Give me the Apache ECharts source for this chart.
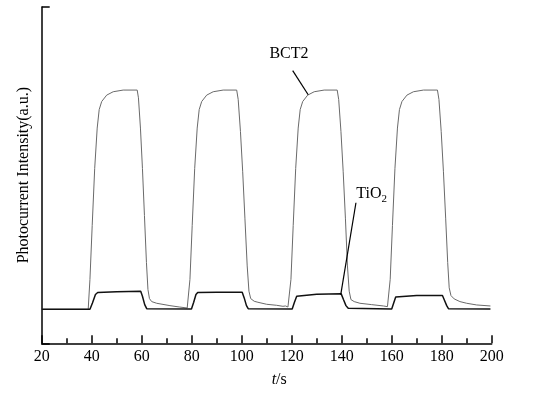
<!DOCTYPE html>
<html>
<head>
<meta charset="utf-8">
<script src="https://cdn.jsdelivr.net/npm/echarts@6/dist/echarts.min.js"></script>
<style>
  html, body { margin: 0; padding: 0; background: #fff; }
  #chart { width: 535px; height: 397px; }
</style>
</head>
<body>
<div id="chart"></div>
<script>
// time (s) and photocurrent (a.u.)
var bctTime = [20, 38.6, 39.3, 40.2, 41.2, 42.2, 43.0, 44.0, 46.0, 48.6, 52.6, 58.2, 58.7, 59.5, 60.3, 61.1, 61.9, 62.5, 63.1, 64.0, 66, 71.3, 75, 78.2,
  78.6, 79.3, 80.2, 81.2, 82.2, 83.0, 84.0, 86.0, 88.6, 92.6, 98.0, 98.6, 99.5, 100.4, 101.3, 102.2, 102.9, 103.6, 105.0, 106.5, 110, 114, 116.5, 117.5, 118.5,
  119.0, 119.7, 120.6, 121.6, 122.6, 123.4, 124.4, 126.4, 129.0, 133.0, 138.2, 138.8, 139.7, 140.6, 141.5, 142.3, 143.0, 143.7, 145.0, 147.3, 152, 156.7, 158.3,
  158.7, 159.4, 160.3, 161.3, 162.3, 163.1, 164.1, 166.1, 168.7, 172.7, 178.3, 178.9, 179.8, 180.7, 181.6, 182.4, 183.0, 183.7, 185, 187.3, 190, 194, 199.5];
var bctValue = [10.1, 10.1, 19, 35, 52, 64, 69.5, 71.9, 73.8, 74.8, 75.3, 75.3, 73, 64, 52, 38, 24, 16, 13.3, 12.4, 11.9, 11.2, 10.8, 10.5,
  10.5, 19, 35, 52, 64, 69.5, 71.9, 73.8, 74.8, 75.3, 75.3, 72.5, 63, 51, 37, 23, 15.5, 13.3, 12.5, 12.2, 11.6, 11.3, 11.0, 11.1, 10.8,
  10.8, 19, 35, 52, 64, 69.5, 71.9, 73.8, 74.8, 75.3, 75.3, 72.5, 63, 51, 37, 23, 15.5, 13.0, 12.4, 11.9, 11.5, 11.1, 10.9,
  11.0, 19, 35, 52, 64, 69.5, 71.9, 73.8, 74.8, 75.3, 75.3, 72.5, 63, 51, 37, 24, 16.5, 14.2, 13.2, 12.4, 11.9, 11.4, 11.1];

var tioTime = [20, 39.3, 40.3, 41.5, 42.4, 50, 59.6, 60.3, 61.2, 62.0,
  79.9, 80.8, 81.7, 82.4, 90, 100.2, 101.0, 101.9, 102.6,
  120.2, 121.1, 122.0, 122.7, 130, 139.8, 140.7, 141.7, 142.6,
  160.0, 160.8, 161.6, 162.3, 170, 180.3, 181.1, 182.0, 182.7, 199.5];
var tioValue = [10.1, 10.1, 12, 14.5, 15.1, 15.3, 15.5, 14, 11.5, 10.3,
  10.2, 12.2, 14.5, 15.1, 15.2, 15.2, 13.5, 11.2, 10.3,
  10.2, 12.2, 14, 14.5, 14.6, 14.7, 13, 11.2, 10.4,
  10.2, 12, 13.8, 14.1, 14.2, 14.2, 12.8, 11.2, 10.3, 10.2];

var xTicks = [20, 40, 60, 80, 100, 120, 140, 160, 180, 200];

function zip(xs, ys) {
  return xs.map(function (x, i) { return [x, ys[i]]; });
}

var serif = '"Liberation Serif", "DejaVu Serif", serif';
var chart = echarts.init(document.getElementById('chart'), null, {renderer: 'canvas'});

var leader = {
  symbol: 'none',
  silent: true,
  label: {show: false},
  lineStyle: {color: '#000', width: 1.2, type: 'solid'},
  emphasis: {disabled: true}
};

var option = {
  animation: false,
  grid: {left: 41.7, right: 43.3, top: 7, bottom: 53.7},
  xAxis: {
    type: 'value',
    min: xTicks[0],
    max: xTicks[xTicks.length - 1],
    interval: 20,
    name: '{i|t}{n|/s}',
    nameLocation: 'middle',
    nameGap: 28,
    nameTextStyle: {
      padding: [0, 0, 0, 25],
      rich: {
        i: {fontFamily: serif, fontSize: 16, fontStyle: 'italic', color: '#000'},
        n: {fontFamily: serif, fontSize: 16, color: '#000'}
      }
    },
    axisLine: {lineStyle: {color: '#000', width: 1.5}},
    axisTick: {inside: true, length: 8, lineStyle: {color: '#000', width: 1.5}},
    minorTick: {show: true, splitNumber: 2, length: 5, lineStyle: {color: '#000', width: 1.5}},
    axisLabel: {fontFamily: serif, fontSize: 16, color: '#000', margin: 5},
    splitLine: {show: false}
  },
  yAxis: {
    type: 'value',
    min: 0,
    max: 100,
    interval: 100,
    name: 'Photocurrent Intensity(a.u.)',
    nameLocation: 'middle',
    nameGap: 10,
    nameTextStyle: {fontFamily: serif, fontSize: 16, color: '#000'},
    axisLine: {show: true, lineStyle: {color: '#000', width: 1.5}},
    axisTick: {show: true, inside: true, length: 8, lineStyle: {color: '#000', width: 1.5}},
    axisLabel: {show: false},
    splitLine: {show: false}
  },
  series: [
    {
      name: 'BCT2',
      type: 'line',
      data: zip(bctTime, bctValue),
      showSymbol: false,
      lineStyle: {color: '#6a6a6a', width: 1},
      markLine: Object.assign({data: [[{coord: [120.4, 81.1]}, {coord: [126.6, 73.9]}]]}, leader)
    },
    {
      name: 'TiO2',
      type: 'line',
      data: zip(tioTime, tioValue),
      showSymbol: false,
      lineStyle: {color: '#111', width: 1.5},
      markLine: Object.assign({data: [[{coord: [145.7, 41.8]}, {coord: [139.6, 14.4]}]]}, leader)
    }
  ]
};

chart.setOption(option);

// curve labels, anchored in data units
var p1 = chart.convertToPixel({gridIndex: 0}, [118.9, 86.1]);
var p2 = chart.convertToPixel({gridIndex: 0}, [152.0, 44.5]);
chart.setOption({
  graphic: [
    {type: 'text', x: p1[0], y: p1[1], style: {text: 'BCT2', font: '16px ' + serif, fill: '#000', align: 'center', verticalAlign: 'middle'}},
    {type: 'text', x: p2[0], y: p2[1], style: {
      text: '{a|TiO}{s|2}', align: 'center', verticalAlign: 'middle',
      rich: {
        a: {fontFamily: serif, fontSize: 16, fill: '#000', color: '#000'},
        s: {fontFamily: serif, fontSize: 11, fill: '#000', color: '#000', padding: [10, 0, 0, 0]}
      }
    }}
  ]
});
</script>
</body>
</html>
